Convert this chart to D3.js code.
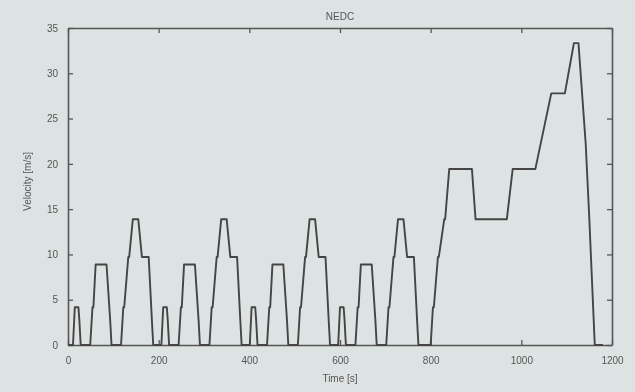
<!DOCTYPE html>
<html>
<head>
<meta charset="utf-8">
<script src="https://cdn.jsdelivr.net/npm/d3@7"></script>
<style>
  html, body { margin: 0; padding: 0; background: #dde3e2; }
  svg { display: block; }
  text { font-family: "Liberation Sans", "DejaVu Sans", sans-serif; fill: #555; }
</style>
</head>
<body>
<svg></svg>
<script>
// NEDC speed trace, time [s] and speed [m/s]
const timeSec = [
  0, 11, 15, 23, 25, 28, 49, 54, 56, 61, 85, 93, 96, 117, 122, 124, 133, 135, 143, 155, 163, 176, 178, 185, 188,
  195, 206, 210, 218, 220, 223, 244, 249, 251, 256, 280, 288, 291, 312, 317, 319, 328, 330, 338, 350, 358, 371, 373, 380, 383,
  390, 401, 405, 413, 415, 418, 439, 444, 446, 451, 475, 483, 486, 507, 512, 514, 523, 525, 533, 545, 553, 566, 568, 575, 578,
  585, 596, 600, 608, 610, 613, 634, 639, 641, 646, 670, 678, 681, 702, 707, 709, 718, 720, 728, 740, 748, 761, 763, 770, 773,
  780, 800, 805, 807, 816, 818, 830, 832, 841, 891, 899, 968, 981, 1031, 1066, 1096, 1116, 1126, 1142, 1150, 1162, 1180
];
const speed = [
  0, 0, 4.17, 4.17, 2.78, 0, 0, 4.17, 4.17, 8.89, 8.89, 2.78, 0, 0, 4.17, 4.17, 9.72, 9.72, 13.89, 13.89, 9.72, 9.72, 9.72, 2.78, 0,
  0, 0, 4.17, 4.17, 2.78, 0, 0, 4.17, 4.17, 8.89, 8.89, 2.78, 0, 0, 4.17, 4.17, 9.72, 9.72, 13.89, 13.89, 9.72, 9.72, 9.72, 2.78, 0,
  0, 0, 4.17, 4.17, 2.78, 0, 0, 4.17, 4.17, 8.89, 8.89, 2.78, 0, 0, 4.17, 4.17, 9.72, 9.72, 13.89, 13.89, 9.72, 9.72, 9.72, 2.78, 0,
  0, 0, 4.17, 4.17, 2.78, 0, 0, 4.17, 4.17, 8.89, 8.89, 2.78, 0, 0, 4.17, 4.17, 9.72, 9.72, 13.89, 13.89, 9.72, 9.72, 9.72, 2.78, 0,
  0, 0, 4.17, 4.17, 9.72, 9.72, 13.89, 13.89, 19.44, 19.44, 13.89, 13.89, 19.44, 19.44, 27.78, 27.78, 33.33, 33.33, 22.22, 13.89, 0, 0
];
const xTicks = [0, 200, 400, 600, 800, 1000, 1200];
const yTicks = [0, 5, 10, 15, 20, 25, 30, 35];

const svg = d3.select('svg').attr('width', 635).attr('height', 392);
const margin = { top: 28, right: 23, bottom: 47, left: 68 };
const width = 635 - margin.left - margin.right;
const height = 392 - margin.top - margin.bottom;

const defs = svg.append('defs');
defs.append('filter').attr('id', 'soft')
  .append('feGaussianBlur').attr('stdDeviation', 0.7);

const g = svg.append('g')
  .attr('transform', `translate(${margin.left},${margin.top})`)
  .attr('filter', 'url(#soft)');

const x = d3.scaleLinear().domain([0, 1200]).range([0, width]);
const y = d3.scaleLinear().domain([0, 35]).range([height, 0]);

// axes with inward ticks on all sides (matlab style)
const axisStyle = sel => {
  sel.select('.domain').attr('stroke', '#555').attr('stroke-width', 1.6);
  sel.selectAll('.tick line').attr('stroke', '#555').attr('stroke-width', 1.3);
  sel.selectAll('.tick text').attr('font-size', 10).attr('fill', '#5a5a5a');
};

g.append('g')
  .attr('transform', `translate(0,${height})`)
  .call(d3.axisBottom(x).tickValues(xTicks).tickFormat(d3.format('d'))
    .tickSizeInner(-5).tickSizeOuter(0).tickPadding(12))
  .call(axisStyle);
g.append('g')
  .call(d3.axisTop(x).tickValues(xTicks).tickSizeInner(-5).tickSizeOuter(0).tickFormat(''))
  .call(axisStyle);
g.append('g')
  .call(d3.axisLeft(y).tickValues(yTicks).tickSizeInner(-5).tickSizeOuter(0).tickPadding(10))
  .call(axisStyle);
g.append('g')
  .attr('transform', `translate(${width},0)`)
  .call(d3.axisRight(y).tickValues(yTicks).tickSizeInner(-5).tickSizeOuter(0).tickFormat(''))
  .call(axisStyle);

const line = d3.line()
  .x((d, i) => x(timeSec[i]))
  .y(d => y(d));

g.append('path')
  .datum(speed)
  .attr('fill', 'none')
  .attr('stroke', '#444')
  .attr('stroke-width', 1.9)
  .attr('stroke-linejoin', 'round')
  .attr('d', line);

g.append('text')
  .attr('x', width / 2)
  .attr('y', -8)
  .attr('text-anchor', 'middle')
  .attr('font-size', 10)
  .text('NEDC');

g.append('text')
  .attr('x', width / 2)
  .attr('y', height + 37)
  .attr('text-anchor', 'middle')
  .attr('font-size', 10)
  .text('Time [s]');

g.append('text')
  .attr('transform', 'rotate(-90)')
  .attr('x', -height / 2 + 5)
  .attr('y', -37)
  .attr('text-anchor', 'middle')
  .attr('font-size', 10)
  .text('Velocity [m/s]');
</script>
</body>
</html>
